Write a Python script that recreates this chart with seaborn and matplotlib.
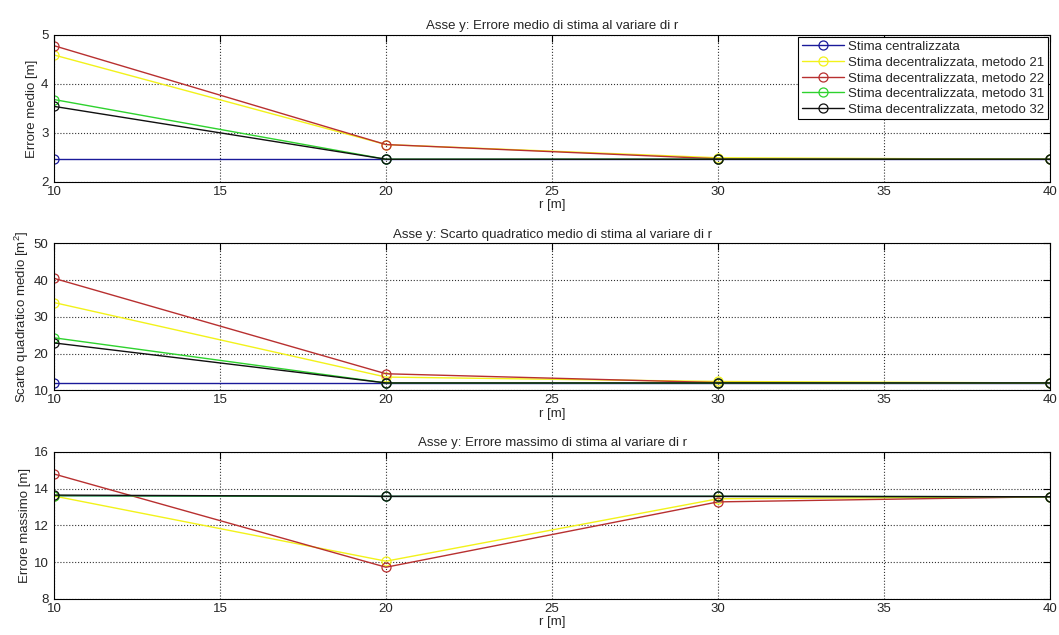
import matplotlib
matplotlib.use('Agg')
import matplotlib.pyplot as plt
import seaborn as sns
import pandas as pd

# raggi di comunicazione
r_vals = [10, 20, 30, 40]

series_names = [
    'Stima centralizzata',
    'Stima decentralizzata, metodo 21',
    'Stima decentralizzata, metodo 22',
    'Stima decentralizzata, metodo 31',
    'Stima decentralizzata, metodo 32',
]

# errore medio [m]
err_medio_c = [2.46, 2.46, 2.46, 2.46]
err_medio_21 = [4.59, 2.76, 2.49, 2.46]
err_medio_22 = [4.78, 2.76, 2.47, 2.46]
err_medio_31 = [3.68, 2.46, 2.46, 2.46]
err_medio_32 = [3.54, 2.46, 2.46, 2.46]

# scarto quadratico medio [m^2]
sqm_c = [12.0, 12.0, 12.0, 12.0]
sqm_21 = [33.9, 13.6, 12.4, 12.0]
sqm_22 = [40.5, 14.5, 12.1, 12.0]
sqm_31 = [24.3, 12.0, 12.0, 12.0]
sqm_32 = [22.9, 12.0, 12.0, 12.0]

# errore massimo [m]
err_max_c = [13.62, 13.58, 13.58, 13.56]
err_max_21 = [13.6, 10.05, 13.45, 13.56]
err_max_22 = [14.8, 9.72, 13.28, 13.56]
err_max_31 = [13.62, 13.58, 13.58, 13.56]
err_max_32 = [13.65, 13.58, 13.58, 13.56]

colors = ['#1a1a9a', '#f2f21a', '#b83030', '#2ed22e', '#101010']

panels = [
    ([err_medio_c, err_medio_21, err_medio_22, err_medio_31, err_medio_32],
     'Asse y: Errore medio di stima al variare di r', 'Errore medio [m]',
     (2, 5), [2, 3, 4, 5]),
    ([sqm_c, sqm_21, sqm_22, sqm_31, sqm_32],
     'Asse y: Scarto quadratico medio di stima al variare di r',
     'Scarto quadratico medio [m$^2$]', (10, 50), [10, 20, 30, 40, 50]),
    ([err_max_c, err_max_21, err_max_22, err_max_31, err_max_32],
     'Asse y: Errore massimo di stima al variare di r', 'Errore massimo [m]',
     (8, 16), [8, 10, 12, 14, 16]),
]

sns.set_style('white')
plt.rcParams['font.family'] = ['Liberation Sans', 'DejaVu Sans']
plt.rcParams['font.size'] = 9.5
plt.rcParams['mathtext.fontset'] = 'custom'
plt.rcParams['mathtext.rm'] = 'Liberation Sans'

fig, axes = plt.subplots(3, 1, figsize=(10.59, 6.35), dpi=100)
fig.subplots_adjust(left=0.051, right=0.9915, top=0.945, bottom=0.057, hspace=0.42)

for i, (ax, (data, title, ylabel, ylim, yticks)) in enumerate(zip(axes, panels)):
    for name, vals, c in zip(series_names, data, colors):
        df = pd.DataFrame({'r': r_vals, 'val': vals})
        sns.lineplot(
            data=df, x='r', y='val', color=c, label=name,
            marker='o', markerfacecolor='none', markeredgecolor=c,
            markersize=6.5, markeredgewidth=0.9, linewidth=1.0, ax=ax,
        )

    ax.set_xlim(10, 40)
    ax.set_ylim(*ylim)
    ax.set_xticks([10, 15, 20, 25, 30, 35, 40])
    ax.set_yticks(yticks)
    ax.set_title(title, fontsize=9.5, pad=4)
    ax.set_xlabel('r [m]', fontsize=9.5, labelpad=1)
    ax.set_ylabel(ylabel, fontsize=9.5, labelpad=2)
    ax.grid(True, linestyle=':', color='#333333', linewidth=0.8)
    ax.tick_params(direction='in', length=5, top=True, right=True,
                   labelsize=9.5, color='black')
    ax.tick_params(axis='x', pad=3)
    ax.tick_params(axis='y', pad=4)
    for s in ax.spines.values():
        s.set_color('black')
        s.set_linewidth(0.8)

    if i == 0:
        leg = ax.legend(loc='upper right', fontsize=9.5, frameon=True,
                        fancybox=False, edgecolor='black', framealpha=1,
                        borderaxespad=0.15, handlelength=3.2, handletextpad=0.3,
                        labelspacing=0.25, borderpad=0.3)
        leg.get_frame().set_linewidth(0.8)
    else:
        ax.get_legend().remove()

plt.savefig('out.png', dpi=100, facecolor='white')
